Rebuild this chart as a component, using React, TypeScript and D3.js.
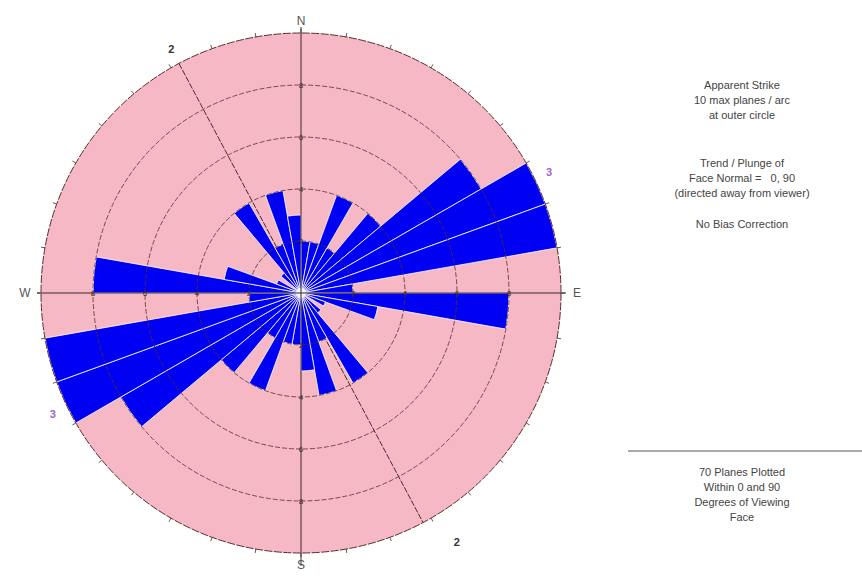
import React, { useEffect, useRef } from 'react';
import * as d3 from 'd3';

// apparent strike, 10 degree bins from 0 to 180 (each drawn again 180 degrees round)
const binStarts = [0, 10, 20, 30, 40, 50, 60, 70, 80, 90, 100, 110, 120, 130, 140, 150, 160, 170];
const binCounts = [2, 2, 4, 2, 4, 8, 10, 10, 2, 8, 3, 1, 0, 1, 4, 2, 4, 3];

const ringValues = [2, 4, 6, 8, 10];
const ringLabels = [2, 4, 6, 8];
const maxPlanes = 10;

// mean set directions
const setAzimuths = [332, 64];
const setLabels = ['2', '3'];
const setColors = ['#333333', '#a066c8'];

const compassLabels = ['N', 'E', 'S', 'W'];
const compassAz = [0, 90, 180, 270];

const infoTop = ['Apparent Strike', '10 max planes / arc', 'at outer circle'];
const infoMid = ['Trend / Plunge of', 'Face Normal =   0, 90', '(directed away from viewer)'];
const infoBias = ['No Bias Correction'];
const infoBottom = ['70 Planes Plotted', 'Within 0 and 90', 'Degrees of Viewing', 'Face'];

const W = 862;
const H = 578;
const cx = 301;
const cy = 293;
const R = 260;
const font = '"Liberation Sans", Arial, sans-serif';

const rad = (d: number) => (d * Math.PI) / 180;
const px = (az: number, rr: number) => cx + rr * Math.sin(rad(az));
const py = (az: number, rr: number) => cy - rr * Math.cos(rad(az));

export default function App() {
  const ref = useRef<SVGSVGElement>(null);

  useEffect(() => {
    const svg = d3.select(ref.current);
    svg.selectAll('*').remove();

    const r = d3.scaleLinear().domain([0, maxPlanes]).range([0, R]);
    const g = svg.append('g');

    // pink disc
    g.append('circle').attr('cx', cx).attr('cy', cy).attr('r', r(maxPlanes)).attr('fill', '#f6b8c4');

    // set lines (under the petals)
    setAzimuths.forEach(az => {
      g.append('line')
        .attr('x1', px(az, R)).attr('y1', py(az, R))
        .attr('x2', px(az + 180, R)).attr('y2', py(az + 180, R))
        .attr('stroke', '#4a2a2a').attr('stroke-width', 1).attr('stroke-dasharray', '6,1.5');
    });

    // petals
    const petals = binStarts.flatMap((s, i) => [
      { az: s, count: binCounts[i] },
      { az: s + 180, count: binCounts[i] },
    ]).filter(d => d.count > 0);

    const arc = d3.arc<any>()
      .innerRadius(0)
      .outerRadius(d => r(d.count))
      .startAngle(d => rad(d.az))
      .endAngle(d => rad(d.az + 10));

    g.append('g')
      .attr('transform', `translate(${cx},${cy})`)
      .selectAll('path')
      .data(petals)
      .join('path')
      .attr('d', arc)
      .attr('fill', '#0000f2')
      .attr('stroke', '#ffffff')
      .attr('stroke-width', 0.8);

    g.append('circle').attr('cx', cx).attr('cy', cy).attr('r', 5).attr('fill', '#f4f4f4');

    // rings
    ringValues.forEach(v => {
      g.append('circle')
        .attr('cx', cx).attr('cy', cy).attr('r', r(v))
        .attr('fill', 'none')
        .attr('stroke', '#5a2c2c')
        .attr('stroke-width', v === maxPlanes ? 1 : 0.8)
        .attr('stroke-dasharray', v === maxPlanes ? '8,1.5' : '5,2');
    });

    // outer ticks every 10 degrees
    d3.range(0, 360, 10).forEach(az => {
      g.append('line')
        .attr('x1', px(az, R)).attr('y1', py(az, R))
        .attr('x2', px(az, R + 4)).attr('y2', py(az, R + 4))
        .attr('stroke', '#4a2a2a').attr('stroke-width', 0.8);
    });

    // compass axes
    g.append('line').attr('x1', cx).attr('y1', 27).attr('x2', cx).attr('y2', 566)
      .attr('stroke', '#3a2a2a').attr('stroke-width', 1);
    g.append('line').attr('x1', 37).attr('y1', cy).attr('x2', 566).attr('y2', cy)
      .attr('stroke', '#3a2a2a').attr('stroke-width', 1);

    // ring numbers on the axes
    compassAz.forEach(az => {
      ringLabels.forEach(v => {
        g.append('text')
          .attr('x', px(az, r(v))).attr('y', py(az, r(v)))
          .attr('text-anchor', 'middle').attr('dominant-baseline', 'central')
          .attr('font-family', font).attr('font-size', 8).attr('fill', '#3a2a2a')
          .text(v);
      });
    });

    // compass letters
    compassLabels.forEach((t, i) => {
      const az = compassAz[i];
      const rr = R + 12 + (az % 180 ? 4 : 0);
      g.append('text')
        .attr('x', px(az, rr)).attr('y', py(az, rr))
        .attr('text-anchor', 'middle').attr('dominant-baseline', 'central')
        .attr('font-family', font).attr('font-size', 12).attr('fill', '#555')
        .text(t);
    });

    // set labels at both ends of each set line
    setAzimuths.forEach((az, i) => {
      [az, az + 180].forEach((a, j) => {
        const far = i === 0 && j === 1;
        const la = far ? a - 4 : a;
        const lr = far ? R + 34 : R + 16;
        g.append('text')
          .attr('x', px(la, lr)).attr('y', py(la, lr))
          .attr('text-anchor', 'middle').attr('dominant-baseline', 'central')
          .attr('font-family', font).attr('font-size', 11).attr('font-weight', 'bold')
          .attr('fill', setColors[i])
          .text(setLabels[i]);
      });
    });

    // info panel
    const tx = 742;
    const block = (lines: string[], y0: number) => {
      lines.forEach((t, i) => {
        svg.append('text')
          .attr('x', tx).attr('y', y0 + i * 15)
          .attr('text-anchor', 'middle')
          .attr('font-family', font).attr('font-size', 11).attr('fill', '#444')
          .style('white-space', 'pre')
          .text(t);
      });
    };
    block(infoTop, 89);
    block(infoMid, 167);
    block(infoBias, 228);
    svg.append('line').attr('x1', 628).attr('y1', 451).attr('x2', W).attr('y2', 451)
      .attr('stroke', '#555').attr('stroke-width', 1);
    block(infoBottom, 476);
  }, []);

  return (
    <>
      <style>{'body{margin:0}'}</style>
      <svg ref={ref} width={W} height={H} style={{ display: 'block', background: '#fff' }} />
    </>
  );
}
